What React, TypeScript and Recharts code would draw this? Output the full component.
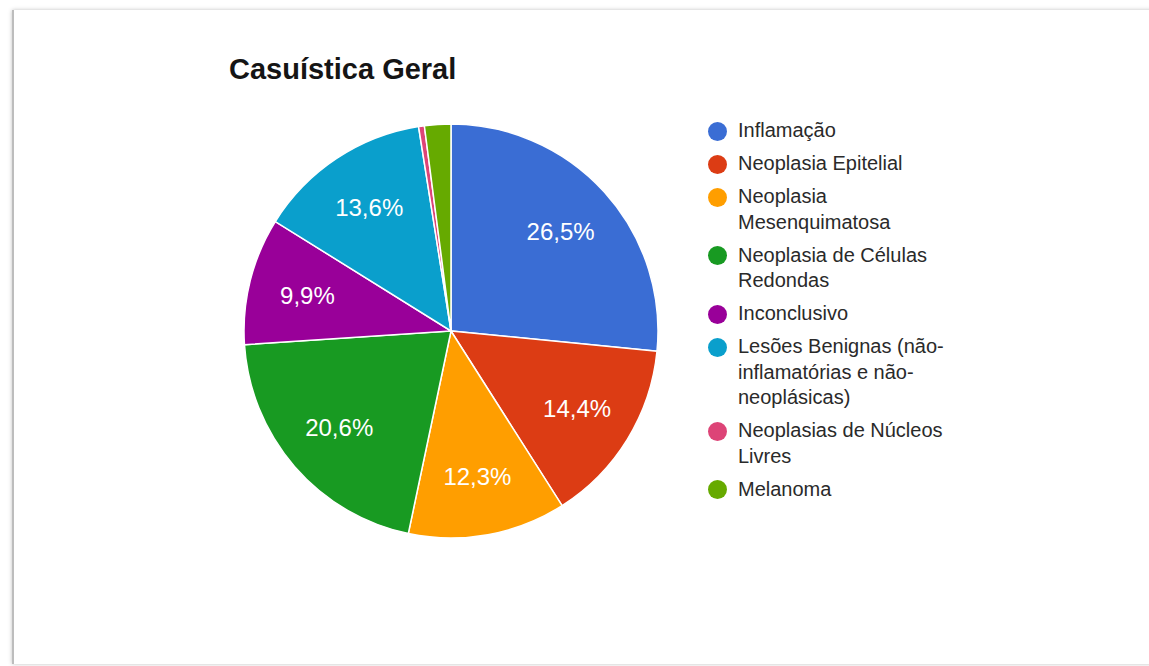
import React from 'react';
import { PieChart, Pie, Cell } from 'recharts';

const categories = [
  'Inflamação',
  'Neoplasia Epitelial',
  'Neoplasia Mesenquimatosa',
  'Neoplasia de Células Redondas',
  'Inconclusivo',
  'Lesões Benignas (não-inflamatórias e não-neoplásicas)',
  'Neoplasias de Núcleos Livres',
  'Melanoma',
];

const shares = [26.5, 14.4, 12.3, 20.6, 9.9, 13.6, 0.45, 2.05];

const COLORS = ['#3a6dd4', '#dc3c14', '#ff9e00', '#189a22', '#990099', '#0a9fcc', '#dd4477', '#66aa00'];

const data = categories.map((name, i) => ({ name, value: shares[i] }));

const FONT = '"Liberation Sans", Arial, sans-serif';
const RAD = Math.PI / 180;

const renderLabel = (props: any) => {
  const { cx, cy, midAngle, outerRadius, percent, value } = props;
  if (percent < 0.05) return null;
  const r = outerRadius * 0.715;
  const x = cx + r * Math.cos(-midAngle * RAD);
  const y = cy + r * Math.sin(-midAngle * RAD);
  return (
    <text
      x={x}
      y={y}
      fill="#ffffff"
      textAnchor="middle"
      dominantBaseline="central"
      style={{ fontFamily: FONT, fontSize: 24 }}
    >
      {Number(value).toFixed(1).replace('.', ',')}%
    </text>
  );
};

export default function App() {
  return (
    <div style={{ position: 'absolute', left: 0, top: 0, width: 1149, height: 666, background: '#fff', overflow: 'hidden' }}>
      <div
        style={{
          position: 'absolute',
          left: 12,
          top: 10,
          width: 1160,
          height: 654,
          background: '#fff',
          borderLeft: '2px solid #bdbdbd',
          boxShadow: '0 0 4px rgba(0,0,0,0.25)',
        }}
      />
      <div
        style={{
          position: 'absolute',
          left: 229,
          top: 55,
          fontFamily: FONT,
          fontSize: 29,
          lineHeight: '29px',
          fontWeight: 'bold',
          color: '#151515',
          whiteSpace: 'nowrap',
        }}
      >
        Casuística Geral
      </div>
      <div style={{ position: 'absolute', left: 0, top: 0 }}>
        <PieChart width={1149} height={666} margin={{ top: 0, right: 0, bottom: 0, left: 0 }}>
          <Pie
            data={data}
            dataKey="value"
            nameKey="name"
            cx={451}
            cy={331}
            outerRadius={207}
            startAngle={90}
            endAngle={-270}
            stroke="#ffffff"
            strokeWidth={1.5}
            labelLine={false}
            label={renderLabel}
            isAnimationActive={false}
          >
            {data.map((_, index) => (
              <Cell key={`cell-${index}`} fill={COLORS[index % COLORS.length]} />
            ))}
          </Pie>
        </PieChart>
      </div>
      <div style={{ position: 'absolute', left: 708, top: 118, fontFamily: FONT, fontSize: 20, color: '#2a2a2a' }}>
        {categories.map((name, i) => (
          <div key={name} style={{ display: 'flex', alignItems: 'flex-start', marginBottom: 7.5 }}>
            <div
              style={{
                width: 19,
                height: 19,
                borderRadius: '50%',
                background: COLORS[i],
                marginTop: 3.5,
                marginRight: 11,
                flexShrink: 0,
              }}
            />
            <div style={{ width: 220, lineHeight: '25.5px' }}>{name}</div>
          </div>
        ))}
      </div>
    </div>
  );
}
